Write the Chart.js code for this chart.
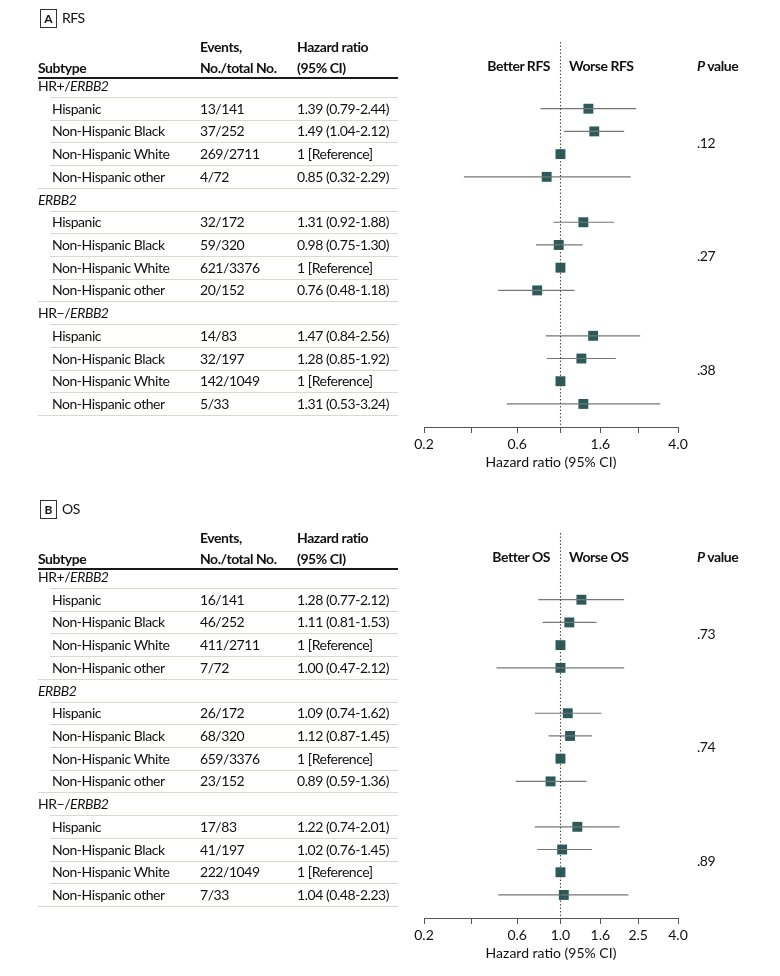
<!DOCTYPE html>
<html>
<head>
<meta charset="utf-8">
<script src="https://cdn.jsdelivr.net/npm/chart.js@4.4.1/dist/chart.umd.min.js"></script>
<style>
  body {
    margin: 0;
    width: 780px;
    height: 976px;
    overflow: hidden;
    background: #fff;
    font-family: Lato, 'Open Sans', sans-serif;
    color: #111;
  }
  .panel {
    position: absolute;
    left: 0;
    width: 780px;
    height: 491px;
  }
  .panel canvas {
    position: absolute;
    left: 0;
    top: 0;
  }
  .txt {
    position: absolute;
    white-space: nowrap;
    font-size: 14px;
    line-height: 18px;
    letter-spacing: -0.45px;
  }
  .b {
    font-weight: 700;
  }
  .sep {
    position: absolute;
    height: 1px;
    background: #dcd8cf;
  }
  .rule {
    position: absolute;
    height: 1.5px;
    background: #1a1a1a;
  }
  .letter {
    position: absolute;
    left: 40px;
    top: 9px;
    width: 15px;
    height: 17px;
    border: 1px solid #333;
    font-size: 12px;
    font-weight: 700;
    line-height: 17px;
    text-align: center;
  }
</style>
</head>
<body>
<script>
// table rows
const subtypes = ['HR+/', '', 'HR\u2212/'];
const subtypeGene = 'ERBB2';
const groups = ['Hispanic', 'Non-Hispanic Black', 'Non-Hispanic White', 'Non-Hispanic other'];

// A: relapse-free survival
const rfsEvents = ['13/141', '37/252', '269/2711', '4/72', '32/172', '59/320', '621/3376', '20/152', '14/83', '32/197', '142/1049', '5/33'];
const rfsHr = [1.39, 1.49, 1, 0.85, 1.31, 0.98, 1, 0.76, 1.47, 1.28, 1, 1.31];
const rfsLo = [0.79, 1.04, null, 0.32, 0.92, 0.75, null, 0.48, 0.84, 0.85, null, 0.53];
const rfsHi = [2.44, 2.12, null, 2.29, 1.88, 1.30, null, 1.18, 2.56, 1.92, null, 3.24];
const rfsP = ['.12', '.27', '.38'];

// B: overall survival
const osEvents = ['16/141', '46/252', '411/2711', '7/72', '26/172', '68/320', '659/3376', '23/152', '17/83', '41/197', '222/1049', '7/33'];
const osHr = [1.28, 1.11, 1, 1.00, 1.09, 1.12, 1, 0.89, 1.22, 1.02, 1, 1.04];
const osLo = [0.77, 0.81, null, 0.47, 0.74, 0.87, null, 0.59, 0.74, 0.76, null, 0.48];
const osHi = [2.12, 1.53, null, 2.12, 1.62, 1.45, null, 1.36, 2.01, 1.45, null, 2.23];
const osP = ['.73', '.74', '.89'];

// x axis
const tickValues = [0.2, 0.35, 0.6, 1.0, 1.6, 2.5, 4.0];
const rfsTickLabels = ['0.2', '', '0.6', '', '1.6', '', '4.0'];
const osTickLabels = ['0.2', '', '0.6', '1.0', '1.6', '2.5', '4.0'];
const xMin = 0.2;
const xMax = 4.0;

// layout (pixels inside one panel)
const FIRST_ROW = 86;
const ROW_H = 22.71;
const PLOT_TOP = 42;
const AXIS_Y = 427;
const PANEL_H = 491;
const Y_MIN = -(FIRST_ROW - PLOT_TOP) / ROW_H;
const Y_MAX = (AXIS_Y - FIRST_ROW) / ROW_H;

function rowIndex(k) {
  return Math.floor(k / 4) * 5 + 1 + (k % 4);
}

function rowY(i) {
  return FIRST_ROW + i * ROW_H;
}

function addText(parent, html, x, y, cls, align) {
  const d = document.createElement('div');
  d.className = 'txt ' + (cls || '');
  d.innerHTML = html;
  d.style.top = (y - 9) + 'px';
  if (align === 'right') {
    d.style.right = (780 - x) + 'px';
  } else {
    d.style.left = x + 'px';
  }
  parent.appendChild(d);
  return d;
}

function addLine(parent, cls, x1, x2, y) {
  const d = document.createElement('div');
  d.className = cls;
  d.style.left = x1 + 'px';
  d.style.width = (x2 - x1) + 'px';
  d.style.top = y + 'px';
  parent.appendChild(d);
}

function hrText(hr, lo, hi) {
  if (lo === null) {
    return '1 [Reference]';
  }
  return hr.toFixed(2) + ' (' + lo.toFixed(2) + '-' + hi.toFixed(2) + ')';
}

function createTable(panel, cfg) {
  const letter = document.createElement('div');
  letter.className = 'letter';
  letter.textContent = cfg.letter;
  panel.appendChild(letter);
  addText(panel, cfg.title, 62, 18);

  addText(panel, 'Subtype', 38, 68, 'b');
  addText(panel, 'Events,', 200, 47, 'b');
  addText(panel, 'No./total No.', 200, 68, 'b');
  addText(panel, 'Hazard ratio', 297, 47, 'b');
  addText(panel, '(95% CI)', 297, 68, 'b');
  addLine(panel, 'rule', 38, 398, 77);

  addText(panel, cfg.better, 550, 66, 'b', 'right');
  addText(panel, cfg.worse, 569, 66, 'b');
  addText(panel, '<i>P</i> value', 697, 66, 'b');

  subtypes.forEach((s, g) => {
    const head = g * 5;
    addText(panel, s + '<i>' + subtypeGene + '</i>', 38, rowY(head));
    addLine(panel, 'sep', 50, 398, rowY(head) + 11);
    groups.forEach((name, j) => {
      const k = g * 4 + j;
      const i = rowIndex(k);
      addText(panel, name, 52, rowY(i));
      addText(panel, cfg.events[k], 200, rowY(i));
      addText(panel, hrText(cfg.hr[k], cfg.lo[k], cfg.hi[k]), 297, rowY(i));
      addLine(panel, 'sep', j === 3 ? 38 : 50, 398, rowY(i) + 11);
    });
    addText(panel, cfg.p[g], 697, rowY(head + 2.5));
  });
}

function createForest(canvas, cfg) {
  const ciPoints = [];
  const marks = [];
  cfg.hr.forEach((v, k) => {
    const y = rowIndex(k);
    marks.push({ x: v, y: y });
    if (cfg.lo[k] !== null) {
      ciPoints.push({ x: cfg.lo[k], y: y }, { x: cfg.hi[k], y: y }, { x: null, y: null });
    }
  });

  new Chart(canvas, {
    type: 'scatter',
    data: {
      datasets: [
        {
          data: [{ x: 1, y: Y_MIN }, { x: 1, y: Y_MAX }],
          showLine: true,
          borderColor: '#444',
          borderWidth: 1,
          borderDash: [1.5, 2],
          pointRadius: 0,
        },
        {
          data: ciPoints,
          showLine: true,
          spanGaps: false,
          borderColor: '#777',
          borderWidth: 1.2,
          pointRadius: 0,
        },
        {
          data: marks,
          pointStyle: 'rect',
          pointRadius: 7,
          backgroundColor: '#2b5a58',
          borderWidth: 0,
        },
      ],
    },
    options: {
      responsive: false,
      animation: false,
      devicePixelRatio: 1,
      layout: {
        padding: { left: 424, right: 102, top: PLOT_TOP, bottom: 0 },
      },
      plugins: {
        legend: { display: false },
        tooltip: { enabled: false },
      },
      scales: {
        x: {
          type: 'logarithmic',
          position: 'bottom',
          min: xMin,
          max: xMax,
          afterBuildTicks: (scale) => {
            scale.ticks = tickValues.map((v) => ({ value: v }));
          },
          afterFit: (scale) => {
            scale.height = PANEL_H - AXIS_Y;
          },
          grid: {
            drawOnChartArea: false,
            drawTicks: true,
            tickLength: 6,
            color: '#555',
          },
          border: {
            display: true,
            color: '#555',
            width: 1,
          },
          ticks: {
            autoSkip: false,
            maxRotation: 0,
            padding: 3,
            color: '#111',
            font: { family: 'Lato', size: 14 },
            callback: (value, index) => cfg.tickLabels[index],
          },
          title: {
            display: true,
            text: 'Hazard ratio (95% CI)',
            color: '#111',
            font: { family: 'Lato', size: 14 },
            padding: { top: 0, bottom: 20 },
          },
        },
        y: {
          type: 'linear',
          min: Y_MIN,
          max: Y_MAX,
          reverse: true,
          display: false,
        },
      },
    },
  });
}

function createPanel(top, cfg) {
  const panel = document.createElement('div');
  panel.className = 'panel';
  panel.style.top = top + 'px';
  const canvas = document.createElement('canvas');
  canvas.width = 780;
  canvas.height = PANEL_H;
  panel.appendChild(canvas);
  document.body.appendChild(panel);
  createTable(panel, cfg);
  createForest(canvas, cfg);
}

createPanel(0, {
  letter: 'A',
  title: 'RFS',
  better: 'Better RFS',
  worse: 'Worse RFS',
  events: rfsEvents,
  hr: rfsHr,
  lo: rfsLo,
  hi: rfsHi,
  p: rfsP,
  tickLabels: rfsTickLabels,
});

createPanel(491, {
  letter: 'B',
  title: 'OS',
  better: 'Better OS',
  worse: 'Worse OS',
  events: osEvents,
  hr: osHr,
  lo: osLo,
  hi: osHi,
  p: osP,
  tickLabels: osTickLabels,
});
</script>
</body>
</html>
